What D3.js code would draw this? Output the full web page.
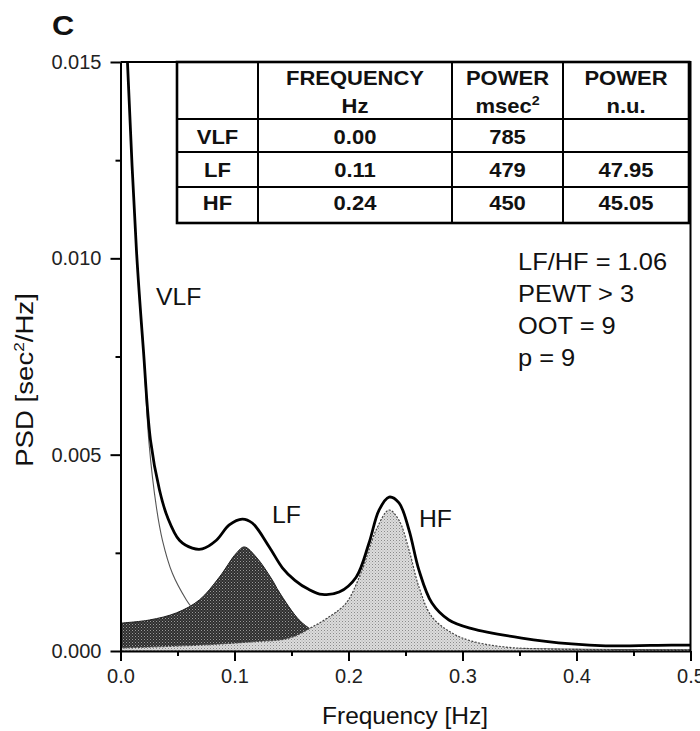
<!DOCTYPE html>
<html><head><meta charset="utf-8">
<script src="https://cdn.jsdelivr.net/npm/d3@7"></script>
<style>body{margin:0;background:#fff} svg{display:block}</style>
</head><body><svg id="c" width="700" height="731"></svg>
<script>
// ---------- data ----------
const xTicks = [0, 0.1, 0.2, 0.3, 0.4, 0.5];
const xMinorTicks = [0.05, 0.15, 0.25, 0.35, 0.45];
const yTicks = [0, 0.005, 0.010, 0.015];
const yMinorTicks = [0.0025, 0.0075, 0.0125];

// total PSD (thick line)
const totalFreq = [0.0050,0.0061,0.0140,0.0201,0.0263,0.0342,0.0412,0.0517,0.0630,0.0718,0.0841,0.0954,0.1068,0.1156,0.1305,0.1420,0.1530,0.1650,0.1769,0.1918,0.2067,0.2180,0.2268,0.2356,0.2443,0.2531,0.2618,0.2732,0.2881,0.3082,0.3520,0.3958,0.4256,0.4834,0.5000];
const totalPSD  = [0.0160,0.0150,0.01020,0.00766,0.00537,0.00410,0.00341,0.00282,0.00262,0.00260,0.00282,0.00321,0.00336,0.00326,0.00265,0.00212,0.00180,0.00157,0.00144,0.00150,0.00188,0.00275,0.00359,0.00392,0.00377,0.00308,0.00206,0.00122,0.00079,0.00057,0.00033,0.00018,0.00013,0.00015,0.00015];

// VLF component (thin line)
const vlfFreq = [0.0050,0.0061,0.0140,0.0201,0.0250,0.0315,0.0368,0.0455,0.0578,0.0622];
const vlfPSD  = [0.0160,0.0150,0.01020,0.00766,0.00530,0.00366,0.00282,0.00198,0.00130,0.00112];

// LF component (dark shaded area)
const lfFreq = [0.0000,0.0254,0.0490,0.0692,0.0867,0.1016,0.1086,0.1191,0.1331,0.1392,0.1567,0.1681,0.1830,0.2270,0.2880,0.5000];
const lfPSD  = [0.00071,0.00079,0.00097,0.00130,0.00188,0.00249,0.00265,0.00239,0.00181,0.00150,0.00079,0.00053,0.00028,0.00015,0.00008,0.00003];

// HF component (light shaded area)
const hfFreq = [0.0000,0.0254,0.0692,0.1130,0.1480,0.1681,0.1830,0.1979,0.2119,0.2242,0.2356,0.2443,0.2531,0.2618,0.2732,0.2907,0.3082,0.3380,0.3760,0.5000];
const hfPSD  = [0.00008,0.00010,0.00015,0.00023,0.00033,0.00061,0.00087,0.00122,0.00206,0.00308,0.00359,0.00333,0.00257,0.00163,0.00087,0.00046,0.00025,0.00010,0.00005,0.00003];

// table
const tableHead1 = ["", "FREQUENCY", "POWER", "POWER"];
const tableHead2 = ["", "Hz", "msec", "n.u."];
const tableRowNames = ["VLF", "LF", "HF"];
const tableFreq = ["0.00", "0.11", "0.24"];
const tablePowerMs = ["785", "479", "450"];
const tablePowerNu = ["", "47.95", "45.05"];

const annotations = ["LF/HF = 1.06", "PEWT > 3", "OOT = 9", "p = 9"];
const bandLabels = ["VLF", "LF", "HF"];

// ---------- drawing ----------
const FONT = "'Liberation Sans', Arial, Helvetica, sans-serif";
const svg = d3.select("#c");
const L = 120.5, R = 690.5, T = 62, B = 651;
const x = d3.scaleLinear().domain([0, 0.5]).range([L, R]);
const y = d3.scaleLinear().domain([0, 0.015]).range([B, T]);

const defs = svg.append("defs");
defs.append("clipPath").attr("id", "clip").append("rect")
  .attr("x", L).attr("y", T).attr("width", R - L).attr("height", B - T);

const pd = defs.append("pattern").attr("id", "darkPat").attr("patternUnits", "userSpaceOnUse")
  .attr("width", 3).attr("height", 3);
pd.append("rect").attr("width", 3).attr("height", 3).attr("fill", "#2e2e2e");
pd.append("rect").attr("x", 0).attr("y", 0).attr("width", 1).attr("height", 1).attr("fill", "#9a9a9a");
pd.append("rect").attr("x", 1.5).attr("y", 1.5).attr("width", 1).attr("height", 1).attr("fill", "#777");

const pl = defs.append("pattern").attr("id", "lightPat").attr("patternUnits", "userSpaceOnUse")
  .attr("width", 3).attr("height", 3);
pl.append("rect").attr("width", 3).attr("height", 3).attr("fill", "#dcdcdc");
pl.append("rect").attr("x", 0).attr("y", 0).attr("width", 1).attr("height", 1).attr("fill", "#8a8a8a");
pl.append("rect").attr("x", 1.5).attr("y", 1.5).attr("width", 1).attr("height", 1).attr("fill", "#a8a8a8");

const zip = (fs, vs) => fs.map((f, i) => [f, vs[i]]);
const area = d3.area().x(d => x(d[0])).y0(y(0)).y1(d => y(d[1])).curve(d3.curveCatmullRom.alpha(0.5));
const line = d3.line().x(d => x(d[0])).y(d => y(d[1])).curve(d3.curveCatmullRom.alpha(0.5));

const plot = svg.append("g").attr("clip-path", "url(#clip)");
plot.append("path").datum(zip(lfFreq, lfPSD)).attr("d", area)
  .attr("fill", "url(#darkPat)").attr("stroke", "#1a1a1a").attr("stroke-width", 1);
plot.append("path").datum(zip(hfFreq, hfPSD)).attr("d", area)
  .attr("fill", "url(#lightPat)").attr("stroke", "#444").attr("stroke-width", 1.2).attr("stroke-dasharray", "2,1.5");
plot.append("path").datum(zip(vlfFreq, vlfPSD)).attr("d", line)
  .attr("fill", "none").attr("stroke", "#555").attr("stroke-width", 1.1);
plot.append("path").datum(zip(totalFreq, totalPSD)).attr("d", line)
  .attr("fill", "none").attr("stroke", "#000").attr("stroke-width", 2.8);

// axes
function styleAxis(g) {
  g.attr("font-family", FONT).attr("font-size", 20);
  g.selectAll("path").attr("stroke", "#000").attr("stroke-width", 2);
  g.selectAll("line").attr("stroke", "#000").attr("stroke-width", 2);
  g.selectAll("text").attr("fill", "#222");
}
svg.append("g").attr("transform", `translate(0,${B})`)
  .call(d3.axisBottom(x).tickValues(xMinorTicks).tickSize(5).tickSizeOuter(0).tickFormat(""))
  .call(styleAxis).select(".domain").remove();
svg.append("g").attr("transform", `translate(${L},0)`)
  .call(d3.axisLeft(y).tickValues(yMinorTicks).tickSize(5).tickSizeOuter(0).tickFormat(""))
  .call(styleAxis).select(".domain").remove();
svg.append("g").attr("transform", `translate(0,${B})`)
  .call(d3.axisBottom(x).tickValues(xTicks).tickSize(10).tickSizeOuter(0).tickPadding(8).tickFormat(d3.format(".1f")))
  .call(styleAxis);
svg.append("g").attr("transform", `translate(${L},0)`)
  .call(d3.axisLeft(y).tickValues(yTicks).tickSize(10).tickSizeOuter(0).tickPadding(9).tickFormat(d3.format(".3f")))
  .call(styleAxis);
// frame top / right
svg.append("path").attr("d", `M${L},${T}H${R}V${B}`).attr("fill", "none").attr("stroke", "#000").attr("stroke-width", 2);

// text helper
function txt(px, py, s, size, opt = {}) {
  const sx = opt.sx || 1;
  const rot = opt.rot ? ` rotate(${opt.rot})` : "";
  const t = svg.append("text")
    .attr("transform", `translate(${px},${py})${rot} scale(${sx},1)`)
    .attr("font-family", FONT).attr("font-size", size)
    .attr("font-weight", opt.bold ? "bold" : "normal")
    .attr("text-anchor", opt.anchor || "start").attr("fill", opt.fill || "#111");
  if (s !== null) t.text(s);
  return t;
}

// title
txt(52, 35, "C", 28, {bold: true, sx: 1.1});

// axis titles
txt(405, 724, "Frequency [Hz]", 24, {anchor: "middle", sx: 1.02});
const yl = txt(33, 380, null, 24, {anchor: "middle", rot: -90, sx: 1.15});
yl.append("tspan").text("PSD [sec");
yl.append("tspan").attr("font-size", 15).attr("dy", -9).text("2");
yl.append("tspan").attr("dy", 9).text("/Hz]");

// band labels near curves
const labelPos = [[156, 305], [272, 523], [419, 527]];
bandLabels.forEach((b, i) => txt(labelPos[i][0], labelPos[i][1], b, 24, {sx: 1.03}));

// annotations
annotations.forEach((a, i) => txt(518, 270 + i * 32, a, 24, {sx: 1.06}));

// table
const colX = [177, 258, 452, 563, 689];
const rowY = [62, 119, 152, 187, 223];
const tg = svg.append("g");
tg.append("rect").attr("x", colX[0]).attr("y", rowY[0]).attr("width", colX[4] - colX[0]).attr("height", rowY[4] - rowY[0])
  .attr("fill", "#fff").attr("stroke", "#000").attr("stroke-width", 2.6);
colX.slice(1, 4).forEach(cx => tg.append("line").attr("x1", cx).attr("x2", cx).attr("y1", rowY[0]).attr("y2", rowY[4])
  .attr("stroke", "#000").attr("stroke-width", 2));
rowY.slice(1, 4).forEach(ry => tg.append("line").attr("x1", colX[0]).attr("x2", colX[4]).attr("y1", ry).attr("y2", ry)
  .attr("stroke", "#000").attr("stroke-width", 2));
const colC = colX.slice(0, 4).map((c, i) => (c + colX[i + 1]) / 2);
const TF = 20, TSX = 1.1;
tableHead1.forEach((h, i) => { if (h) txt(colC[i], 85, h, TF, {bold: true, anchor: "middle", sx: TSX}); });
tableHead2.forEach((h, i) => {
  if (!h) return;
  const t = txt(colC[i], 113, null, TF, {bold: true, anchor: "middle", sx: TSX});
  t.append("tspan").text(h);
  if (h === "msec") t.append("tspan").attr("font-size", 13).attr("dy", -8).text("2");
});
const rowBase = [144, 177, 210];
tableRowNames.forEach((r, i) => {
  txt(colC[0], rowBase[i], r, TF, {bold: true, anchor: "middle", sx: TSX});
  txt(colC[1], rowBase[i], tableFreq[i], TF, {bold: true, anchor: "middle", sx: TSX});
  txt(colC[2], rowBase[i], tablePowerMs[i], TF, {bold: true, anchor: "middle", sx: TSX});
  if (tablePowerNu[i]) txt(colC[3], rowBase[i], tablePowerNu[i], TF, {bold: true, anchor: "middle", sx: TSX});
});
</script></body></html>
